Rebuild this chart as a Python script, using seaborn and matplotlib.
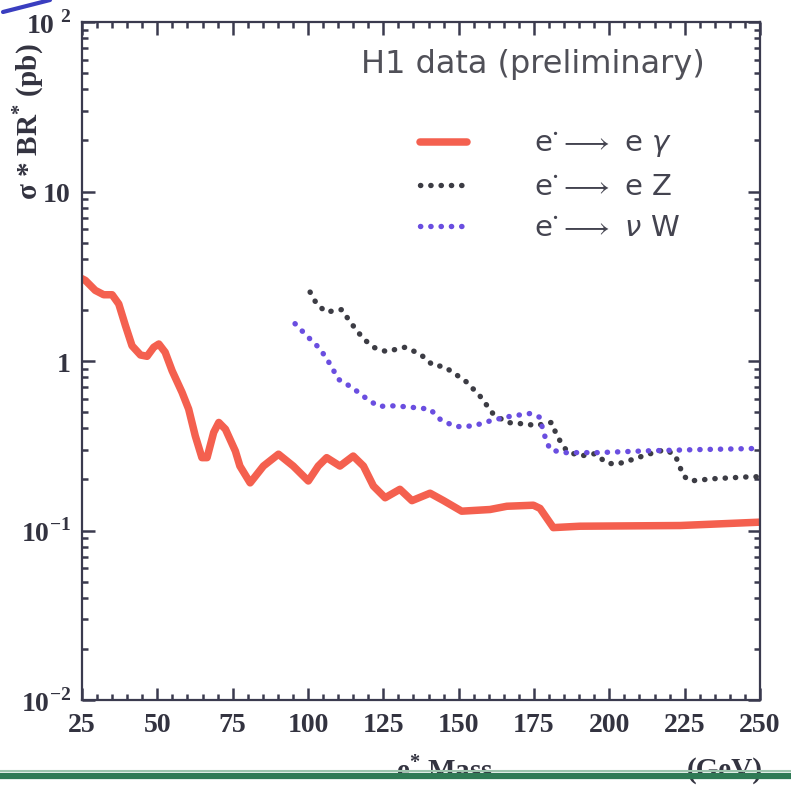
import numpy as np
import pandas as pd
import matplotlib
matplotlib.use("Agg")
import matplotlib.pyplot as plt
from matplotlib.lines import Line2D
from matplotlib.ticker import FixedLocator, FixedFormatter, LogLocator, NullFormatter, MultipleLocator
import seaborn as sns

# ---------------- data ----------------
egamma_mass = [25, 26.1, 29.4, 32.2, 35, 37.2, 39.4, 41.6, 44.4, 46.6, 48.8, 50.5, 52.6, 54.9,
               58.2, 60.4, 62.6, 64.8, 66.5, 68.7, 70.4, 72.6, 75.9, 77.4, 80.8, 85.2, 90.2,
               95.1, 100.1, 103.4, 106.2, 110.6, 115, 118.4, 121.7, 125.6, 130.5, 134.5,
               140.5, 145, 151, 160.4, 166, 174.8, 177, 181.4, 190.3, 223.5, 250]
egamma_xs = [3.06, 2.99, 2.61, 2.46, 2.46, 2.17, 1.62, 1.23, 1.085, 1.066, 1.205, 1.26, 1.126,
             0.876, 0.653, 0.52, 0.361, 0.269, 0.269, 0.379, 0.434, 0.396, 0.294, 0.24, 0.191,
             0.24, 0.282, 0.24, 0.196, 0.24, 0.269, 0.24, 0.275, 0.24, 0.183, 0.156, 0.175,
             0.15, 0.166, 0.15, 0.13, 0.133, 0.139, 0.141, 0.135, 0.104, 0.106, 0.107, 0.112]

ez_mass = [100.7, 103, 106.2, 108.5, 111.2, 114, 118.4, 122, 126.1, 129, 132.2, 137.2, 141.6,
           144.9, 148, 152.7, 157.1, 161.5, 166, 172.6, 175.9, 179, 180.9, 182.6, 185.9, 190.3,
           195.3, 199.1, 202.5, 207, 212.4, 218.5, 221.8, 224.6, 226.8, 234.5, 247.8, 250]
ez_xs = [2.55, 2.15, 1.94, 1.98, 2.01, 1.7, 1.35, 1.2, 1.135, 1.17, 1.205, 1.10, 0.94,
         0.93, 0.86, 0.75, 0.62, 0.486, 0.434, 0.424, 0.415, 0.43, 0.434, 0.361, 0.294, 0.275,
         0.284, 0.25, 0.246, 0.26, 0.28, 0.30, 0.28, 0.21, 0.196, 0.202, 0.208, 0.207]

nuw_mass = [95.7, 100.1, 104, 107.3, 110.1, 114.5, 118.9, 123.3, 128.9, 134.9, 140.5, 144.4,
            149.4, 154.9, 160.4, 166, 170, 173.7, 177, 178.1, 180.3, 184.7, 195.8, 212.4, 229, 250]
nuw_xs = [1.66, 1.38, 1.18, 0.96, 0.78, 0.70, 0.61, 0.54, 0.544, 0.532, 0.52, 0.443,
          0.41, 0.414, 0.443, 0.468, 0.48, 0.49, 0.465, 0.38, 0.30, 0.288, 0.288, 0.295, 0.30, 0.305]

x_ticks = [25, 50, 75, 100, 125, 150, 175, 200, 225, 250]
x_ticklabels = ["25", "50", "75", "100", "125", "150", "175", "200", "225", "250"]
y_ticks = [1e-2, 1e-1, 1, 10, 100]
y_ticklabels = [r"$10^{-2}$", r"$10^{-1}$", r"$1$", r"$10$", r"$10^{\ 2}$"]
labels = [r"e$^{\bullet}$$\longrightarrow$ e $\gamma$",
          r"e$^{\bullet}$$\longrightarrow$ e Z",
          r"e$^{\bullet}$$\longrightarrow$ $\nu$ W"]

# ---------------- style ----------------
sns.set_style("ticks")
plt.rcParams["font.family"] = ["DejaVu Sans"]
plt.rcParams["mathtext.fontset"] = "custom"
plt.rcParams["mathtext.rm"] = "Liberation Serif:bold"
plt.rcParams["mathtext.bf"] = "Liberation Serif:bold"
plt.rcParams["mathtext.it"] = "DejaVu Sans:italic"

axis_col = "#3a3a4e"
red = "#f4604f"
dark = "#3c3c44"
blue = "#6a4ee0"

fig = plt.figure(figsize=(7.91, 7.87), dpi=100)
ax = fig.add_axes([82 / 791, 1 - 700 / 787, (760 - 82) / 791, (700 - 22) / 787])

df_g = pd.DataFrame({"mass": egamma_mass, "xs": egamma_xs})
df_z = pd.DataFrame({"mass": ez_mass, "xs": ez_xs})
df_w = pd.DataFrame({"mass": nuw_mass, "xs": nuw_xs})

sns.lineplot(data=df_g, x="mass", y="xs", ax=ax, color=red, lw=5.4,
             solid_capstyle="round", solid_joinstyle="round", sort=False, label=labels[0])
sns.lineplot(data=df_z, x="mass", y="xs", ax=ax, color=dark, lw=3.9,
             linestyle=(0, (0.05, 1.85)), dash_capstyle="round", sort=False, label=labels[1])
sns.lineplot(data=df_w, x="mass", y="xs", ax=ax, color=blue, lw=3.9,
             linestyle=(0, (0.05, 1.85)), dash_capstyle="round", sort=False, label=labels[2])

ax.set_yscale("log")
ax.set_xlim(25, 250)
ax.set_ylim(1e-2, 1e2)

ax.xaxis.set_major_locator(FixedLocator(x_ticks))
ax.xaxis.set_major_formatter(FixedFormatter(x_ticklabels))
ax.xaxis.set_minor_locator(MultipleLocator(5))
ax.yaxis.set_major_locator(FixedLocator(y_ticks))
ax.yaxis.set_major_formatter(FixedFormatter(y_ticklabels))
ax.yaxis.set_minor_locator(LogLocator(base=10, subs=np.arange(2, 10)))
ax.yaxis.set_minor_formatter(NullFormatter())

for s in ax.spines.values():
    s.set_color(axis_col)
    s.set_linewidth(1.6)
ax.tick_params(which="both", direction="in", top=True, right=True, colors=axis_col)
ax.tick_params(which="major", length=9, width=1.8)
ax.tick_params(which="minor", length=4, width=1.8)
ax.tick_params(axis="x", which="major", pad=9, labelsize=20, labelcolor="#333340")
ax.tick_params(axis="y", which="major", pad=8, labelsize=20, labelcolor="#333340")
for t in ax.get_xticklabels():
    t.set_fontfamily("Liberation Serif")
    t.set_fontweight("bold")
ax.set_xlabel("")
ax.set_ylabel("")

ax.legend(loc="upper left", bbox_to_anchor=((420 - 82) / 678, (700 - 130) / 678),
          frameon=False, borderpad=0, borderaxespad=0, handlelength=1.6,
          handletextpad=2.3, labelspacing=0.45, fontsize=21, labelcolor="#444450")

ax.text(0.919, 0.938, "H1 data (preliminary)", transform=ax.transAxes, ha="right",
        va="center", fontsize=23, color="#505058", family="DejaVu Sans")

# axis titles
fig.text(0.036, 1 - 122 / 787, r"σ * BR$^{*}$ (pb)", rotation=90, ha="center", va="center",
         fontsize=21, family="Liberation Serif", weight="bold", color="#333340")
fig.text(445 / 791, 1 - 770 / 787, r"e$^{*}$ Mass", ha="center", va="center",
         fontsize=21, family="Liberation Serif", weight="bold", color="#333340")
fig.text(725 / 791, 1 - 770 / 787, "(GeV)", ha="center", va="center",
         fontsize=21, family="Liberation Serif", weight="bold", color="#333340")

# decorative green rule at bottom and blue stroke at top-left
fig.add_artist(Line2D([0, 1], [1 - 776 / 787, 1 - 776 / 787], transform=fig.transFigure,
                      color="#2f7a55", lw=4.5, zorder=10))
fig.add_artist(Line2D([0, 1], [1 - 771 / 787, 1 - 771 / 787], transform=fig.transFigure,
                      color="#9cc4ad", lw=1.5, zorder=10))
fig.add_artist(Line2D([3 / 791, 50 / 791], [1 - 12 / 787, 1 - 0 / 787], transform=fig.transFigure,
                      color="#3a3ec0", lw=3, zorder=10, solid_capstyle="round"))

fig.savefig("out.png", dpi=100)
